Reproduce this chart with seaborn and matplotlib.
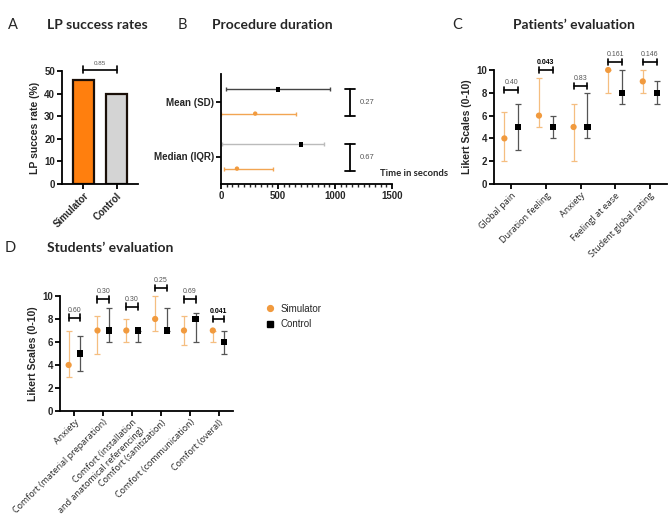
import numpy as np
import pandas as pd
import matplotlib
matplotlib.use("Agg")
import matplotlib.pyplot as plt
from matplotlib.ticker import MultipleLocator
from matplotlib.lines import Line2D
import seaborn as sns

sns.set_theme(style="ticks")
plt.rcParams['font.family'] = ['Liberation Sans', 'DejaVu Sans']

# ---------------- data ----------------
# Panel A
lp_groups = ["Simulator", "Control"]
lp_success = [46, 40]
lp_p = "0.85"

# Panel B (seconds)
dur_rows = ["Mean (SD)", "Median (IQR)"]
dur_ctrl_center = [500, 700]
dur_ctrl_low = [40, 10]
dur_ctrl_high = [960, 905]
dur_sim_center = [300, 140]
dur_sim_low = [0, 30]
dur_sim_high = [655, 455]
dur_p = ["0.27", "0.67"]

# Panel C
pat_items = ["Global pain", "Duration feeling", "Anxiety", "Feelingl at ease", "Student global rating"]
pat_sim = [4, 6, 5, 10, 9]
pat_sim_low = [2, 5, 2, 8, 8]
pat_sim_high = [6.3, 9.27, 7, 10, 10]
pat_ctrl = [5, 5, 5, 8, 8]
pat_ctrl_low = [3, 4, 4, 7, 7]
pat_ctrl_high = [7, 6, 8, 10, 9]
pat_p = ["0.40", "0.043", "0.83", "0.161", "0.146"]
pat_p_bold = [False, True, False, False, False]
pat_bracket_y = [8.25, 10.0, 8.6, 10.7, 10.7]

# Panel D
stu_items = ["Anxiety", "Comfort (material preparation)", "Comfort (installation\nand anatomical referencing)",
             "Comfort (sanitization)", "Comfort (communication)", "Comfort (overal)"]
stu_sim = [4, 7, 7, 8, 7, 7]
stu_sim_low = [3, 5, 6, 7, 5.75, 6]
stu_sim_high = [7, 8.27, 8, 10, 8.3, 7]
stu_ctrl = [5, 7, 7, 7, 8, 6]
stu_ctrl_low = [3.5, 6, 6, 7, 6, 5]
stu_ctrl_high = [6.5, 9, 7, 9, 8.5, 7]
stu_p = ["0.60", "0.30", "0.30", "0.25", "0.69", "0.041"]
stu_p_bold = [False, False, False, False, False, True]
stu_bracket_y = [8.1, 9.7, 9.05, 10.7, 9.7, 8.0]

# ---------------- style ----------------
ORANGE_BAR = "#FF7F0E"
ORANGE_PT = "#F19A3E"
ORANGE_ERR = "#F5BE80"
GREY_BAR = "#D4D4D4"
BLACK = "#000000"
GREY_ERR = "#555555"

W, H = 669, 514
fig = plt.figure(figsize=(W / 100, H / 100), dpi=100)


def rect(x0, y0, x1, y1):
    return [x0 / W, 1 - y1 / H, (x1 - x0) / W, (y1 - y0) / H]


def style_ax(ax):
    sns.despine(ax=ax)
    for s in ("left", "bottom"):
        ax.spines[s].set_linewidth(1.3)
        ax.spines[s].set_color("black")
    ax.tick_params(axis="both", width=1.3, length=3.5, color="black", pad=1.5)
    for lab in ax.get_yticklabels():
        lab.set_fontsize(7)
        lab.set_fontweight("bold")


title_kw = dict(fontsize=10, fontweight="bold", family=["Lato", "DejaVu Sans"])
letter_kw = dict(fontsize=10.5, family=["Lato", "DejaVu Sans"])
fig.text(8 / W, 1 - 25 / H, "A", va="center", **letter_kw)
fig.text(47 / W, 1 - 25 / H, "LP success rates", va="center", **title_kw)
fig.text(178 / W, 1 - 25 / H, "B", va="center", **letter_kw)
fig.text(212 / W, 1 - 25 / H, "Procedure duration", va="center", **title_kw)
fig.text(452 / W, 1 - 25 / H, "C", va="center", **letter_kw)
fig.text(513 / W, 1 - 25 / H, "Patients\u2019 evaluation", va="center", **title_kw)
fig.text(5 / W, 1 - 248 / H, "D", va="center", **letter_kw)
fig.text(47 / W, 1 - 248 / H, "Students\u2019 evaluation", va="center", **title_kw)


def bracket(ax, x0, x1, y, text, bold=False, dy=0.35, tdy=0.45, fs=5):
    ax.plot([x0, x1], [y, y], color="black", lw=1.2, clip_on=False)
    ax.plot([x0, x0], [y - dy, y + dy], color="black", lw=1.2, clip_on=False)
    ax.plot([x1, x1], [y - dy, y + dy], color="black", lw=1.2, clip_on=False)
    ax.text((x0 + x1) / 2, y + tdy, text, ha="center", va="bottom", fontsize=fs,
            color="black" if bold else "#555555", fontweight="bold" if bold else "normal",
            clip_on=False)


# ---------------- Panel A ----------------
axA = fig.add_axes(rect(62, 71, 138, 184))
dfA = pd.DataFrame({"group": lp_groups, "rate": lp_success})
sns.barplot(data=dfA, x="group", y="rate", hue="group", palette=[ORANGE_BAR, GREY_BAR],
            saturation=1, width=0.64, edgecolor="#1a0f08", linewidth=1.6, legend=False, ax=axA)
axA.set_xlim(-0.65, 1.65)
axA.set_ylim(0, 50)
axA.set_yticks([0, 10, 20, 30, 40, 50])
axA.set_xlabel("")
axA.set_ylabel("LP succes rate (%)", fontsize=7.5, fontweight="bold", labelpad=3)
style_ax(axA)
axA.set_xticks([0, 1])
axA.set_xticklabels(lp_groups, rotation=45, ha="right", rotation_mode="anchor",
                    fontsize=7, fontweight="bold")
bracket(axA, 0, 1, 50.6, lp_p, dy=1.6, tdy=1.6, fs=4.5)

# ---------------- Panel B ----------------
axB = fig.add_axes(rect(221, 74, 392, 184))
off = 0.22
yrow = np.arange(len(dur_rows))
ctrl_line_cols = ["#444444", "#BBBBBB"]
for i in range(len(dur_rows)):
    axB.errorbar(dur_ctrl_center[i], yrow[i] - off,
                 xerr=[[dur_ctrl_center[i] - dur_ctrl_low[i]], [dur_ctrl_high[i] - dur_ctrl_center[i]]],
                 fmt="none", ecolor=ctrl_line_cols[i], elinewidth=1.0, capsize=1.5, clip_on=False)
    axB.errorbar(dur_sim_center[i], yrow[i] + off,
                 xerr=[[dur_sim_center[i] - dur_sim_low[i]], [dur_sim_high[i] - dur_sim_center[i]]],
                 fmt="none", ecolor="#F2A552", elinewidth=1.0, capsize=1.5, clip_on=False)
dfB = pd.DataFrame({
    "t": dur_ctrl_center + dur_sim_center,
    "y": list(yrow - off) + list(yrow + off),
    "grp": ["Control"] * 2 + ["Simulator"] * 2,
})
sns.scatterplot(data=dfB, x="t", y="y", hue="grp", style="grp",
                palette={"Control": BLACK, "Simulator": ORANGE_PT},
                markers={"Control": "s", "Simulator": "o"}, s=10, linewidth=0,
                legend=False, ax=axB, zorder=5)
axB.set_xlim(0, 1500)
axB.set_ylim(1.5, -0.5)
axB.set_yticks(yrow)
axB.set_yticklabels(dur_rows)
axB.set_xticks([0, 500, 1000, 1500])
axB.xaxis.set_minor_locator(MultipleLocator(50))
axB.set_xlabel("")
axB.set_ylabel("")
style_ax(axB)
axB.tick_params(axis="x", which="minor", length=2, width=1.0)
for lab in axB.get_xticklabels():
    lab.set_fontsize(7)
    lab.set_fontweight("bold")
for i in range(len(dur_rows)):
    y0, y1 = yrow[i] - off, yrow[i] + off + 0.05
    bx = 1131
    axB.plot([bx, bx], [y0, y1], color="black", lw=1.3)
    axB.plot([bx - 45, bx + 45], [y0, y0], color="black", lw=1.3)
    axB.plot([bx - 45, bx + 45], [y1, y1], color="black", lw=1.3)
    axB.text(bx + 85, (y0 + y1) / 2, dur_p[i], fontsize=5.5, color="#555555", va="center")
axB.text(0.93, 0.055, "Time in seconds", transform=axB.transAxes, fontsize=6.8, fontweight="bold",
         ha="left", va="bottom", clip_on=False, family=["Lato", "DejaVu Sans"])


# ---------------- Panels C and D ----------------
def likert_panel(ax, items, sim, sl, sh, ctrl, cl, ch, pvals, pbold, by, xoff, labfs):
    x = np.arange(len(items))
    sim = np.array(sim, float); ctrl = np.array(ctrl, float)
    ax.errorbar(x - xoff, sim, yerr=[sim - np.array(sl), np.array(sh) - sim], fmt="none",
                ecolor=ORANGE_ERR, elinewidth=0.9, capsize=2.2, capthick=0.9, clip_on=False)
    ax.errorbar(x + xoff, ctrl, yerr=[ctrl - np.array(cl), np.array(ch) - ctrl], fmt="none",
                ecolor=GREY_ERR, elinewidth=0.9, capsize=2.2, capthick=0.9, clip_on=False)
    df = pd.DataFrame({
        "x": list(x - xoff) + list(x + xoff),
        "v": list(sim) + list(ctrl),
        "grp": ["Simulator"] * len(items) + ["Control"] * len(items),
    })
    sns.scatterplot(data=df, x="x", y="v", hue="grp", style="grp",
                    palette={"Simulator": ORANGE_PT, "Control": BLACK},
                    markers={"Simulator": "o", "Control": "s"}, s=20, linewidth=0,
                    legend=False, ax=ax, zorder=5, clip_on=False)
    ax.set_xlim(-0.5, len(items) - 0.5)
    ax.set_ylim(0, 10)
    ax.set_yticks([0, 2, 4, 6, 8, 10])
    ax.set_xlabel("")
    ax.set_ylabel("Likert Scales (0-10)", fontsize=7.5, fontweight="bold", labelpad=3)
    style_ax(ax)
    ax.set_xticks(x)
    ax.set_xticklabels(items, rotation=45, ha="right", rotation_mode="anchor",
                       fontsize=labfs, family=["Open Sans", "DejaVu Sans"])
    for i in range(len(items)):
        bracket(ax, x[i] - xoff, x[i] + xoff, by[i], pvals[i], bold=pbold[i], dy=0.3, tdy=0.35)


axC = fig.add_axes(rect(494, 70, 667, 184))
likert_panel(axC, pat_items, pat_sim, pat_sim_low, pat_sim_high, pat_ctrl, pat_ctrl_low,
             pat_ctrl_high, pat_p, pat_p_bold, pat_bracket_y, 0.2, 6.5)

axD = fig.add_axes(rect(60, 296, 233, 411))
likert_panel(axD, stu_items, stu_sim, stu_sim_low, stu_sim_high, stu_ctrl, stu_ctrl_low,
             stu_ctrl_high, stu_p, stu_p_bold, stu_bracket_y, 0.2, 6.5)

# legend
handles = [Line2D([], [], marker="o", color=ORANGE_PT, ls="none", markersize=4.2),
           Line2D([], [], marker="s", color=BLACK, ls="none", markersize=4.2)]
fig.legend(handles, ["Simulator", "Control"], loc="upper left",
           bbox_to_anchor=(256 / W, 1 - 295 / H), frameon=False, fontsize=7,
           handletextpad=0.6, labelspacing=0.55, handlelength=1.0)

fig.savefig("out.png", dpi=100)
